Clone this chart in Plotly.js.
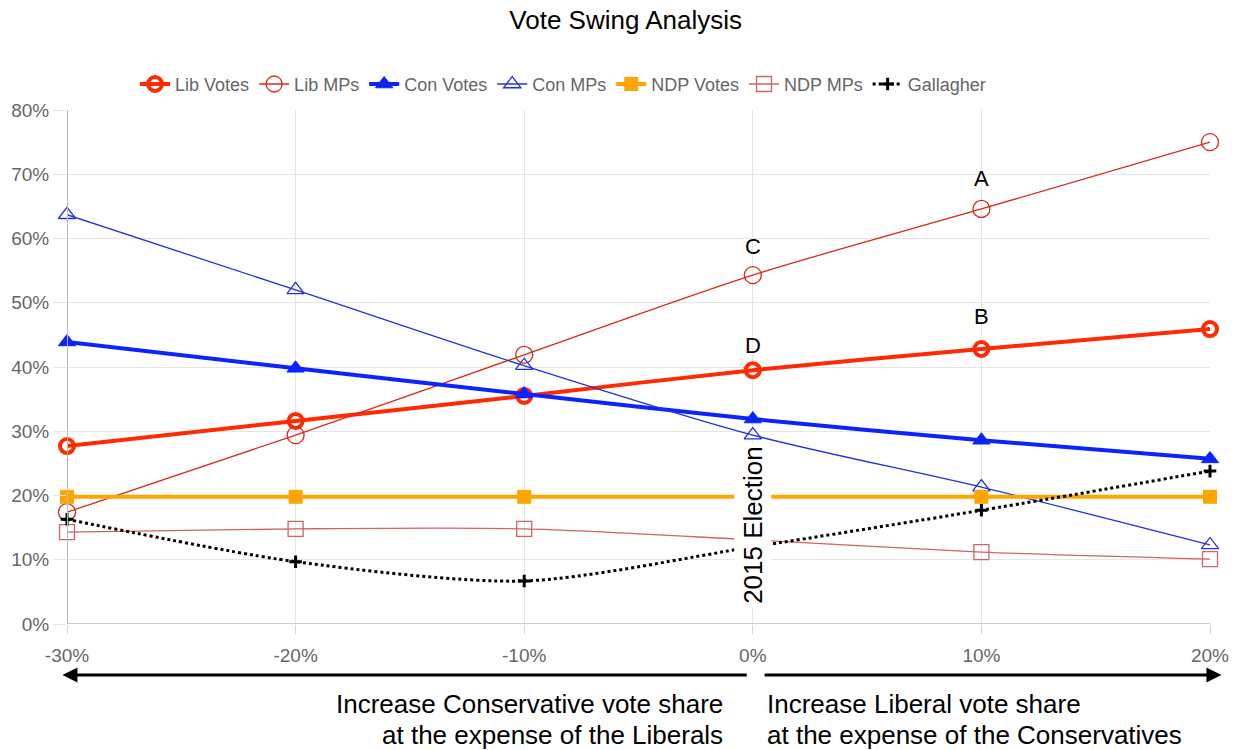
<!DOCTYPE html>
<html><head><meta charset="utf-8">
<script src="https://cdn.plot.ly/plotly-3.0.1.min.js"></script>
<style>body{margin:0;background:#fff}#chart{width:1239px;height:750px}</style>
</head><body><div id="chart"></div>
<script>
const swing = [-30, -20, -10, 0, 10, 20];
const libVotes = [27.7, 31.6, 35.5, 39.5, 42.8, 45.9];
const libMPs = [17.4, 29.4, 41.9, 54.3, 64.6, 75.0];
const conVotes = [43.9, 39.8, 35.8, 31.9, 28.6, 25.7];
const conMPs = [63.7, 52.0, 40.2, 29.4, 21.3, 12.3];
const ndpVotes = [19.8, 19.8, 19.8, 19.8, 19.8, 19.8];
const ndpMPs = [14.3, 14.8, 14.8, 13.1, 11.2, 10.1];
const gallagher = [16.3, 9.7, 6.7, 12.0, 17.7, 23.8];
const pointLabels = [{x: 10, y: 69.4, t: 'A'}, {x: 10, y: 47.9, t: 'B'}, {x: 0, y: 58.8, t: 'C'}, {x: 0, y: 43.3, t: 'D'}];
const leftText = ['Increase Conservative vote share', 'at the expense of the Liberals'];
const rightText = ['Increase Liberal vote share', 'at the expense of the Conservatives'];

function tr(name, y, color, width, symbol, size, mlw, dash) {
  return {x: swing, y: y, name: name, type: 'scatter', mode: 'lines+markers', cliponaxis: false,
    line: {color: color, width: width, shape: 'spline', smoothing: 0.8, dash: dash || 'solid'},
    marker: {symbol: symbol, size: size, color: color, line: {color: color, width: mlw}}};
}
const data = [
  tr('Lib Votes', libVotes, '#ff2a00', 4, 'circle-open', 14, 4),
  tr('Lib MPs', libMPs, '#d42a1a', 1.3, 'circle-open', 17, 1.3),
  tr('Con Votes', conVotes, '#0a24ff', 4, 'triangle-up', 15, 1),
  tr('Con MPs', conMPs, '#2233dd', 1.3, 'triangle-up-open', 15, 1.3),
  tr('NDP Votes', ndpVotes, '#ffa500', 4, 'square', 13, 1),
  tr('NDP MPs', ndpMPs, '#d06464', 1.3, 'square-open', 15, 1.3),
  tr('Gallagher', gallagher, '#000000', 3, 'cross-thin', 9, 3, 'dot')
];
const ann = pointLabels.map(p => ({x: p.x, y: p.y, text: p.t, showarrow: false, font: {size: 22, color: '#000'}, xref: 'x', yref: 'y'}));
ann.push({x: 0, y: 15.4, xref: 'x', yref: 'y', text: '2015 Election', textangle: -90, showarrow: false,
  font: {size: 26, color: '#000'}, bgcolor: '#ffffff', borderpad: 3});
ann.push({x: -30.2, y: -0.099, xref: 'x', yref: 'paper', ax: -0.2, ay: 0, axref: 'x', ayref: 'pixel', text: '',
  showarrow: true, arrowhead: 2, arrowsize: 1, arrowwidth: 3, arrowcolor: '#000'});
ann.push({x: 20.5, y: -0.099, xref: 'x', yref: 'paper', ax: 0.45, ay: 0, axref: 'x', ayref: 'pixel', text: '',
  showarrow: true, arrowhead: 2, arrowsize: 1, arrowwidth: 3, arrowcolor: '#000'});
const lineY = [-0.1566, -0.2158];
leftText.forEach((t, i) => ann.push({x: -1.2, y: lineY[i], xref: 'x', yref: 'paper', xanchor: 'right', yanchor: 'middle', showarrow: false,
  text: t, font: {size: 26, color: '#000'}}));
rightText.forEach((t, i) => ann.push({x: 0.55, y: lineY[i], xref: 'x', yref: 'paper', xanchor: 'left', yanchor: 'middle', showarrow: false,
  text: t, font: {size: 26, color: '#000'}}));

const layout = {
  width: 1239, height: 750,
  margin: {l: 67, r: 29, t: 110, b: 126},
  paper_bgcolor: '#fff', plot_bgcolor: '#fff',
  font: {family: 'Liberation Sans, Arial, sans-serif', color: '#666'},
  title: {text: 'Vote Swing Analysis', x: 0.505, xanchor: 'center', y: 0.973, yanchor: 'middle', font: {size: 26, color: '#000'}},
  showlegend: true,
  legend: {orientation: 'h', x: 0.434, xanchor: 'center', y: 1.05, yanchor: 'middle', font: {size: 18, color: '#666'}, itemwidth: 30, tracegroupgap: 0},
  xaxis: {range: [-30, 20], tickvals: swing, ticktext: swing.map(v => v + '%'), showgrid: true, gridcolor: '#e5e5e5', zeroline: false,
    showline: false, tickfont: {size: 19, color: '#666'}, ticks: 'outside', ticklen: 9, tickcolor: '#d5d5d5', ticklabelstandoff: 5, fixedrange: true},
  yaxis: {range: [0, 80], dtick: 10, ticksuffix: '%', showgrid: true, gridcolor: '#e5e5e5', zeroline: false, showline: false,
    tickfont: {size: 19, color: '#666'}, ticks: 'outside', ticklen: 13, tickcolor: '#e5e5e5'},
  shapes: [
    {type: 'line', xref: 'x', yref: 'paper', x0: -30, x1: -30, y0: 0, y1: 1, line: {color: '#bbbbbb', width: 2}},
    {type: 'line', xref: 'paper', yref: 'y', x0: 0, x1: 1, y0: 0, y1: 0, line: {color: '#cccccc', width: 2}}
  ],
  annotations: ann
};
Plotly.newPlot('chart', data, layout, {displayModeBar: false});
</script></body></html>
